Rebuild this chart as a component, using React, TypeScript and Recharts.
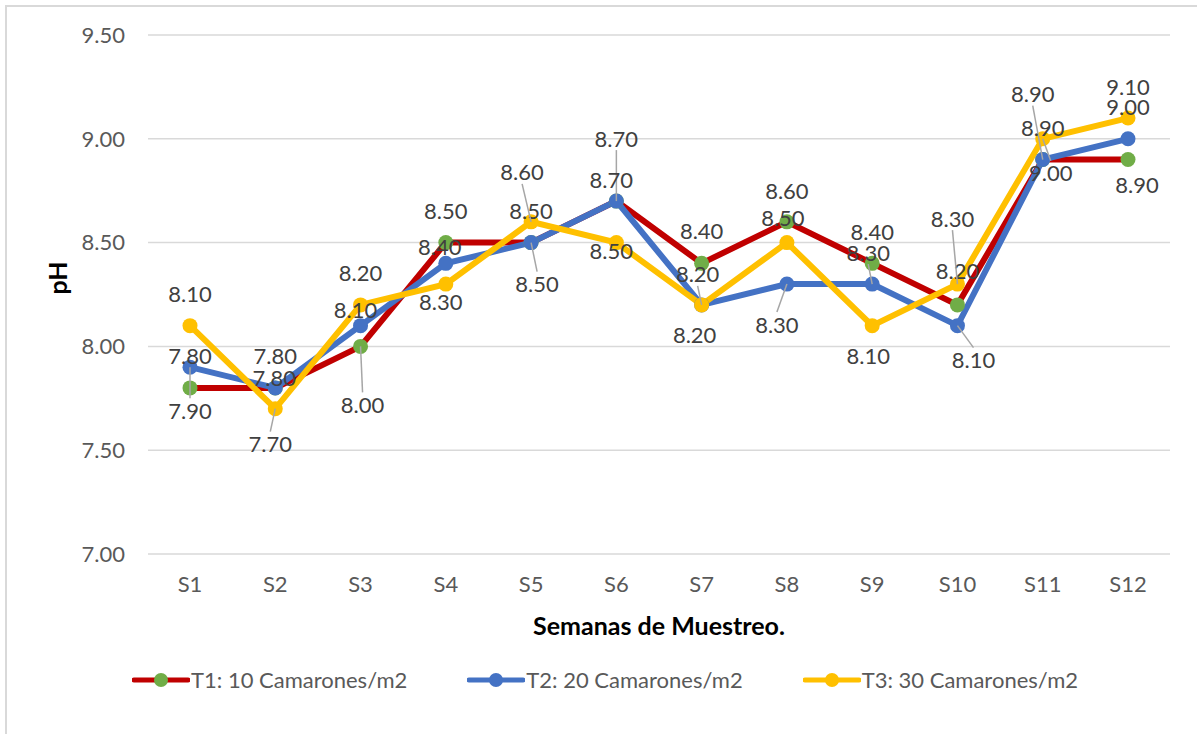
import React from 'react';
import {
  LineChart, Line, XAxis, YAxis, CartesianGrid, Legend, LabelList
} from 'recharts';

const weeks = ['S1', 'S2', 'S3', 'S4', 'S5', 'S6', 'S7', 'S8', 'S9', 'S10', 'S11', 'S12'];
const t1 = [7.8, 7.8, 8.0, 8.5, 8.5, 8.7, 8.4, 8.6, 8.4, 8.2, 8.9, 8.9];
const t2 = [7.9, 7.8, 8.1, 8.4, 8.5, 8.7, 8.2, 8.3, 8.3, 8.1, 8.9, 9.0];
const t3 = [8.1, 7.7, 8.2, 8.3, 8.6, 8.5, 8.2, 8.5, 8.1, 8.3, 9.0, 9.1];
const yTicks = [7.0, 7.5, 8.0, 8.5, 9.0, 9.5];

// label placement (dx, dy from the point, leader line on/off), like excel's dragged labels
type Place = [number, number, boolean?];
const t1Places: Place[] = [
  [0, -32], [0, -32], [2, 58, true], [0, -32], [0, -32], [0, -63, true],
  [0, -33], [0, -31], [0, -32], [0, -34], [-10, -66, true], [9, 25],
];
const t2Places: Place[] = [
  [0, 43, true], [-1, -10], [-5, -16], [-6, -17], [6, 41, true], [-5, -22],
  [-4, -31, true], [-10, 40, true], [-4, -32, true], [16, 34, true], [0, -32], [0, -32],
];
const t3Places: Place[] = [
  [0, -32], [-5, 35, true], [0, -32], [-5, 17], [-9, -50, true], [-5, 8],
  [-7, 30], [-4, -25], [-4, 30], [-5, -66, true], [8, 34, true], [0, -32],
];

const data = weeks.map((w, i) => ({ week: w, t1: t1[i], t2: t2[i], t3: t3[i] }));

const series = [
  { key: 't1', name: 'T1: 10 Camarones/m2', color: '#C00000', dot: '#70AD47', places: t1Places },
  { key: 't2', name: 'T2: 20 Camarones/m2', color: '#4472C4', dot: '#4472C4', places: t2Places },
  { key: 't3', name: 'T3: 30 Camarones/m2', color: '#FFC000', dot: '#FFC000', places: t3Places },
];

const FONT = 'Lato, "Noto Sans", sans-serif';

const makeLabel = (places: Place[]) => (props: any) => {
  const { x, y, value, index } = props;
  const [dx, dy, leader] = places[index] || [0, -30];
  const lx = x + dx;
  const ly = y + dy;
  return (
    <g>
      {leader && (
        <line
          x1={lx}
          y1={ly + (dy > 0 ? -12 : 12)}
          x2={x}
          y2={y}
          stroke="#a6a6a6"
          strokeWidth={1.5}
        />
      )}
      <text
        x={lx}
        y={ly}
        textAnchor="middle"
        dominantBaseline="central"
        fill="#404040"
        fontSize={22}
        fontFamily={FONT}
      >
        {Number(value).toFixed(2)}
      </text>
    </g>
  );
};

const LegendBox = () => (
  <div style={{ display: 'flex', gap: 60, fontFamily: FONT, fontSize: 22, color: '#595959' }}>
    {series.map(s => (
      <div key={s.key} style={{ display: 'flex', alignItems: 'center' }}>
        <svg width={58} height={16}>
          <line x1={2} y1={8} x2={56} y2={8} stroke={s.color} strokeWidth={5} strokeLinecap="round" />
          <circle cx={29} cy={8} r={7} fill={s.dot} />
        </svg>
        <span style={{ marginLeft: 1 }}>{s.name}</span>
      </div>
    ))}
  </div>
);

export default function App() {
  return (
    <div style={{
      position: 'absolute', left: 0, top: 0, width: 1197, height: 734,
      background: '#fff', overflow: 'hidden',
    }}>
      <div style={{
        position: 'absolute', left: 5, top: 5, width: 1300, height: 900,
        border: '2px solid #d9d9d9',
      }} />
      <div style={{ position: 'absolute', left: 0, top: 0 }}>
        <LineChart
          width={1197}
          height={734}
          data={data}
          margin={{ top: 35, right: 27, bottom: 120, left: 88 }}
        >
          <CartesianGrid vertical={false} stroke="#d9d9d9" strokeWidth={1.5} />
          <XAxis
            dataKey="week"
            axisLine={false}
            tickLine={false}
            tickSize={0}
            tickMargin={22}
            height={60}
            padding={{ left: 42, right: 42 }}
            tick={{ fill: '#595959', fontSize: 22, fontFamily: FONT }}
            label={{
              value: 'Semanas de Muestreo.',
              position: 'insideBottom',
              offset: -21,
              fill: '#000',
              fontSize: 25,
              fontWeight: 700,
              fontFamily: FONT,
            }}
          />
          <YAxis
            domain={[7, 9.5]}
            ticks={yTicks}
            width={60}
            axisLine={false}
            tickLine={false}
            tickSize={0}
            tickMargin={23}
            tickFormatter={(v: number) => v.toFixed(2)}
            tick={{ fill: '#595959', fontSize: 22, fontFamily: FONT }}
            label={{
              value: 'pH',
              angle: -90,
              position: 'insideLeft',
              offset: -30,
              fill: '#000',
              fontSize: 25,
              fontWeight: 700,
              fontFamily: FONT,
            }}
          />
          <Legend
            verticalAlign="middle"
            content={<LegendBox />}
            wrapperStyle={{ left: 132, top: 666, width: 1050 }}
          />
          {series.map(s => (
            <Line
              key={s.key}
              type="linear"
              dataKey={s.key}
              name={s.name}
              stroke={s.color}
              strokeWidth={6}
              dot={{ r: 7.5, fill: s.dot, stroke: 'none' }}
              activeDot={false}
              isAnimationActive={false}
            >
              <LabelList dataKey={s.key} content={makeLabel(s.places)} />
            </Line>
          ))}
        </LineChart>
      </div>
    </div>
  );
}
